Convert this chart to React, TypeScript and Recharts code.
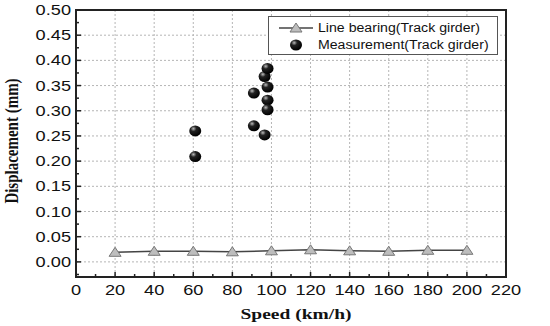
import React from "react";
import {
  ComposedChart,
  Line,
  Scatter,
  XAxis,
  YAxis,
  CartesianGrid,
  Legend,
  ReferenceArea,
} from "recharts";

// Line bearing (Track girder)
const bearingSpeed = [20, 40, 60, 80, 100, 120, 140, 160, 180, 200];
const bearingDisp = [0.019, 0.021, 0.021, 0.02, 0.022, 0.024, 0.022, 0.021, 0.023, 0.023];

// Measurement (Track girder)
const measSpeed = [61, 61, 91, 91, 96.5, 96.5, 98, 98, 98, 98];
const measDisp = [0.26, 0.209, 0.335, 0.27, 0.368, 0.252, 0.384, 0.347, 0.321, 0.302];

const xMajor = [0, 20, 40, 60, 80, 100, 120, 140, 160, 180, 200, 220];
const xMinor = [10, 30, 50, 70, 90, 110, 130, 150, 170, 190, 210];
const yMajor = [0, 0.05, 0.1, 0.15, 0.2, 0.25, 0.3, 0.35, 0.4, 0.45, 0.5];
const yMinor = [-0.025, 0.025, 0.075, 0.125, 0.175, 0.225, 0.275, 0.325, 0.375, 0.425, 0.475];

const bearingData = bearingSpeed.map((x, i) => ({ x, y: bearingDisp[i] }));
const measData = measSpeed.map((x, i) => ({ x, y: measDisp[i] }));

const xTicks = [...xMajor, ...xMinor].sort((a, b) => a - b);
const yTicks = [...yMajor, ...yMinor].sort((a, b) => a - b);

const isMajor = (v: number, list: number[]) => list.some((m) => Math.abs(m - v) < 1e-6);

// the original picture is stretched sideways, so text gets scaleX
const STRETCH = 1.3;
const tickFont = { fontFamily: "Liberation Sans, Arial, sans-serif", fontSize: 14, fill: "#111" };
const titleFont = { fontFamily: "Liberation Serif, Times New Roman, serif", fontSize: 15, fontWeight: 700, fill: "#111" };

function XTick({ x, y, payload }: any) {
  const major = isMajor(payload.value, xMajor);
  const ay = y - 6;
  return (
    <g>
      <line x1={x} x2={x} y1={ay} y2={ay - (major ? 5 : 3)} stroke="#222" strokeWidth={1.5} />
      {major && (
        <text transform={`translate(${x},${y + 12}) scale(${STRETCH},1)`} textAnchor="middle" style={tickFont}>
          {payload.value}
        </text>
      )}
    </g>
  );
}

function YTick({ x, y, payload }: any) {
  const major = isMajor(payload.value, yMajor);
  const ax = x + 5;
  return (
    <g>
      <line x1={ax} x2={ax + (major ? 5 : 3)} y1={y} y2={y} stroke="#222" strokeWidth={1.5} />
      {major && (
        <text transform={`translate(${x},${y + 5}) scale(${STRETCH},1)`} textAnchor="end" style={tickFont}>
          {payload.value.toFixed(2)}
        </text>
      )}
    </g>
  );
}

function XTitle({ viewBox }: any) {
  const cx = viewBox.x + viewBox.width / 2 + 5;
  return (
    <text transform={`translate(${cx},319) scale(${STRETCH},1)`} textAnchor="middle" style={titleFont}>
      Speed (km/h)
    </text>
  );
}

function YTitle() {
  return (
    <text transform={`translate(18,141) scale(${STRETCH},1) rotate(-90)`} textAnchor="middle" style={titleFont}>
      Displacement (mm)
    </text>
  );
}

function Triangle({ cx, cy }: any) {
  if (cx == null || cy == null) return null;
  return (
    <path
      d={`M${cx},${cy - 5} L${cx + 6},${cy + 4} L${cx - 6},${cy + 4} Z`}
      fill="#bdbdbd"
      stroke="#777"
      strokeWidth={1}
    />
  );
}

function Ball({ cx, cy }: any) {
  return <ellipse cx={cx} cy={cy} rx={6} ry={5.5} fill="url(#ballGrad)" />;
}

function LegendBox() {
  const font = { fontFamily: "Liberation Sans, Arial, sans-serif", fontSize: 12.5, color: "#111" };
  return (
    <div
      style={{
        width: 230,
        height: 39,
        border: "1px solid #555",
        background: "#fff",
        boxSizing: "border-box",
        position: "relative",
        ...font,
      }}
    >
      <svg width={50} height={38} style={{ position: "absolute", left: 0, top: 0 }}>
        <defs>
          <radialGradient id="ballGradL" cx="35%" cy="30%" r="70%">
            <stop offset="0%" stopColor="#bbb" />
            <stop offset="35%" stopColor="#222" />
            <stop offset="100%" stopColor="#000" />
          </radialGradient>
        </defs>
        <line x1={10} x2={44} y1={11} y2={11} stroke="#444" strokeWidth={1.5} />
        <path d="M27,6 L33,15 L21,15 Z" fill="#bdbdbd" stroke="#777" strokeWidth={1} />
        <ellipse cx={27} cy={28} rx={6} ry={5.5} fill="url(#ballGradL)" />
      </svg>
      <div
        style={{
          position: "absolute",
          left: 49,
          top: 3,
          lineHeight: "17px",
          whiteSpace: "nowrap",
          transform: "scaleX(1.13)",
          transformOrigin: "left top",
        }}
      >
        Line bearing(Track girder)
        <br />
        Measurement(Track girder)
      </div>
    </div>
  );
}

export default function App() {
  return (
    <div style={{ position: "absolute", left: 0, top: 0, width: 550, height: 326, background: "#fff" }}>
      <ComposedChart width={550} height={326} margin={{ top: 10, right: 44, bottom: 0, left: 0 }}>
        <defs>
          <radialGradient id="ballGrad" cx="35%" cy="30%" r="70%">
            <stop offset="0%" stopColor="#bbb" />
            <stop offset="35%" stopColor="#222" />
            <stop offset="100%" stopColor="#000" />
          </radialGradient>
        </defs>
        <CartesianGrid
          stroke="#b5b5b5"
          strokeDasharray="2 2"
          horizontalValues={yMajor}
          verticalValues={xMajor}
        />
        <XAxis
          type="number"
          dataKey="x"
          domain={[0, 220]}
          ticks={xTicks}
          interval={0}
          height={49}
          tickSize={0}
          tickMargin={6}
          tickLine={false}
          axisLine={{ stroke: "#222", strokeWidth: 2 }}
          tick={<XTick />}
          allowDuplicatedCategory={false}
          label={{ content: (p: any) => <XTitle {...p} /> }}
        />
        <YAxis
          type="number"
          dataKey="y"
          domain={[-0.03, 0.5]}
          ticks={yTicks}
          interval={0}
          width={76}
          tickSize={0}
          tickMargin={5}
          tickLine={false}
          axisLine={{ stroke: "#222", strokeWidth: 2 }}
          tick={<YTick />}
          label={{ content: () => <YTitle /> }}
        />
        <ReferenceArea x1={0} x2={220} y1={-0.03} y2={0.5} fill="none" stroke="#222" strokeWidth={2} />
        <Line
          data={bearingData}
          dataKey="y"
          name="Line bearing(Track girder)"
          stroke="#444"
          strokeWidth={1.5}
          dot={<Triangle />}
          isAnimationActive={false}
        />
        <Scatter
          data={measData}
          dataKey="y"
          name="Measurement(Track girder)"
          shape={<Ball />}
          isAnimationActive={false}
        />
        <Legend
          layout="horizontal"
          verticalAlign="middle"
          align="center"
          wrapperStyle={{ top: 16, left: 268, width: 230 }}
          content={<LegendBox />}
        />
      </ComposedChart>
    </div>
  );
}
